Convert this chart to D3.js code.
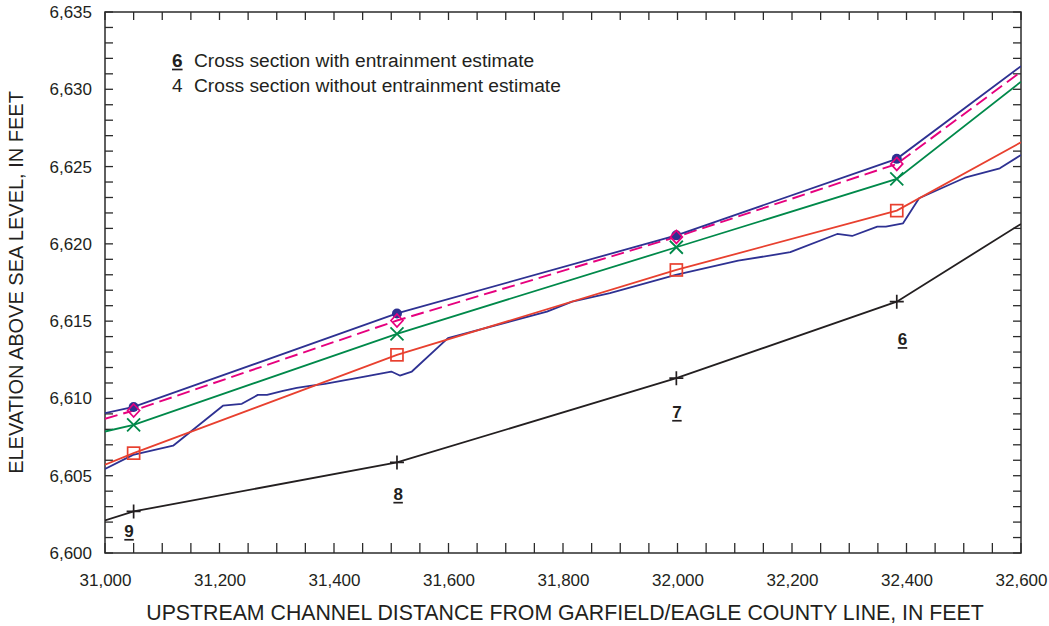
<!DOCTYPE html>
<html>
<head>
<meta charset="utf-8">
<script src="https://cdn.jsdelivr.net/npm/d3@7"></script>
<style>
  html, body { margin: 0; padding: 0; background: #fff; }
  svg { display: block; }
  text { font-family: "Liberation Sans", Arial, Helvetica, sans-serif; fill: #231f20; }
</style>
</head>
<body>
<svg id="chart" width="1049" height="626"></svg>
<script>
// Stations (ft upstream of county line) where the profiles are defined
const profileStations = [31000, 31050, 31510, 31998, 32383, 32600];

// Water-surface / elevation profiles, ft above sea level
const navyProfile    = [6609.05, 6609.45, 6615.50, 6620.55, 6625.50, 6631.50];
const magentaProfile = [6608.68, 6609.22, 6615.04, 6620.45, 6625.17, 6631.13];
const greenProfile   = [6607.86, 6608.29, 6614.18, 6619.78, 6624.20, 6630.49];
const redProfile     = [6605.71, 6606.46, 6612.82, 6618.31, 6622.15, 6626.57];
const blackProfile   = [6602.11, 6602.69, 6605.86, 6611.31, 6616.26, 6621.29];

// Detailed irregular profile
const detailStations = [31000, 31049, 31119, 31206, 31239, 31267, 31283, 31311, 31335, 31358,
  31384, 31451, 31500, 31515, 31536, 31599, 31772, 31816, 31882, 31997, 32106, 32197,
  32279, 32305, 32349, 32364, 32394, 32422, 32502, 32563, 32600];
const detailElev = [6605.43, 6606.35, 6606.94, 6609.53, 6609.65, 6610.23, 6610.23, 6610.49, 6610.68, 6610.81,
  6610.94, 6611.39, 6611.74, 6611.48, 6611.74, 6613.90, 6615.62, 6616.26, 6616.81, 6617.99, 6618.91, 6619.46,
  6620.64, 6620.51, 6621.12, 6621.12, 6621.33, 6622.95, 6624.28, 6624.89, 6625.75];

// Cross sections (with entrainment estimate) and their label anchors
const sectionIds = ["9", "8", "7", "6"];
const sectionLabelStations = [31042, 31512, 31999, 32393];
const sectionLabelElev = [6601.05, 6603.45, 6608.75, 6613.46];

// Axis ticks
const xTickValues = [31000, 31200, 31400, 31600, 31800, 32000, 32200, 32400, 32600];
const yTickValues = [6600, 6605, 6610, 6615, 6620, 6625, 6630, 6635];

// Legend entries
const legendKeys = ["6", "4"];
const legendTexts = ["Cross section with entrainment estimate", "Cross section without entrainment estimate"];

const svg = d3.select("#chart");
const margin = { left: 105, right: 28, top: 12, bottom: 73 };
const W = 1049, H = 626;
const x = d3.scaleLinear().domain([31000, 32600]).range([margin.left, W - margin.right]);
const y = d3.scaleLinear().domain([6600, 6635]).range([H - margin.bottom, margin.top]);

const frameColor = "#2b2b2b";

// Minor ticks (inside the frame) on all four sides
const minorX = d3.range(31000, 32601, 50);
const minorY = d3.range(6600, 6636, 1);
const tickG = svg.append("g").attr("stroke", frameColor).attr("stroke-width", 1.3);
minorX.forEach(v => {
  tickG.append("line").attr("x1", x(v)).attr("x2", x(v)).attr("y1", y(6600)).attr("y2", y(6600) - 10);
  tickG.append("line").attr("x1", x(v)).attr("x2", x(v)).attr("y1", y(6635)).attr("y2", y(6635) + 8);
});
minorY.forEach(v => {
  tickG.append("line").attr("x1", x(31000)).attr("x2", x(31000) + 8).attr("y1", y(v)).attr("y2", y(v));
  tickG.append("line").attr("x1", x(32600)).attr("x2", x(32600) - 8).attr("y1", y(v)).attr("y2", y(v));
});

// Tick labels via d3 axes (no tick marks of their own)
const fmt = d3.format(",");
const xAxis = svg.append("g")
  .attr("transform", `translate(0,${y(6600)})`)
  .call(d3.axisBottom(x).tickValues(xTickValues).tickFormat(fmt).tickSize(0).tickPadding(21));
const yAxis = svg.append("g")
  .attr("transform", `translate(${x(31000)},0)`)
  .call(d3.axisLeft(y).tickValues(yTickValues).tickFormat(fmt).tickSize(0).tickPadding(13));
[xAxis, yAxis].forEach(a => {
  a.select(".domain").remove();
  a.selectAll("text").attr("font-size", 17).attr("fill", "#231f20")
    .style("font-family", '"Liberation Sans", Arial, sans-serif');
});

// Frame
svg.append("rect")
  .attr("x", x(31000)).attr("y", y(6635))
  .attr("width", x(32600) - x(31000)).attr("height", y(6600) - y(6635))
  .attr("fill", "none").attr("stroke", frameColor).attr("stroke-width", 1.5);

// Clip to plot area
svg.append("clipPath").attr("id", "plotClip").append("rect")
  .attr("x", x(31000)).attr("y", y(6635))
  .attr("width", x(32600) - x(31000)).attr("height", y(6600) - y(6635));
const plot = svg.append("g").attr("clip-path", "url(#plotClip)");

const line = d3.line().x(d => x(d[0])).y(d => y(d[1]));
const zipProfile = vals => profileStations.map((s, i) => [s, vals[i]]);

const colors = {
  navy: "#2e3192",
  magenta: "#e6007e",
  green: "#00894a",
  red: "#e8402f",
  black: "#231f20"
};
const lw = 1.8;

// Lines
plot.append("path").datum(zipProfile(blackProfile)).attr("d", line)
  .attr("fill", "none").attr("stroke", colors.black).attr("stroke-width", lw);
plot.append("path").datum(detailStations.map((s, i) => [s, detailElev[i]])).attr("d", line)
  .attr("fill", "none").attr("stroke", colors.navy).attr("stroke-width", lw).attr("stroke-linejoin", "round");
plot.append("path").datum(zipProfile(redProfile)).attr("d", line)
  .attr("fill", "none").attr("stroke", colors.red).attr("stroke-width", lw);
plot.append("path").datum(zipProfile(greenProfile)).attr("d", line)
  .attr("fill", "none").attr("stroke", colors.green).attr("stroke-width", lw);
plot.append("path").datum(zipProfile(magentaProfile)).attr("d", line)
  .attr("fill", "none").attr("stroke", colors.magenta).attr("stroke-width", 1.9)
  .attr("stroke-dasharray", "13,6");
plot.append("path").datum(zipProfile(navyProfile)).attr("d", line)
  .attr("fill", "none").attr("stroke", colors.navy).attr("stroke-width", lw);

// Markers at the cross sections (interior stations)
const markerIdx = [1, 2, 3, 4];
const mk = plot.append("g");
markerIdx.forEach(i => {
  const sx = x(profileStations[i]);
  // black plus
  const by = y(blackProfile[i]);
  mk.append("path").attr("d", `M${sx - 7},${by}H${sx + 7}M${sx},${by - 7}V${by + 7}`)
    .attr("stroke", colors.black).attr("stroke-width", 1.7).attr("fill", "none");
  // red open square
  const ry = y(redProfile[i]);
  mk.append("rect").attr("x", sx - 6).attr("y", ry - 6).attr("width", 12).attr("height", 12)
    .attr("fill", "none").attr("stroke", colors.red).attr("stroke-width", 1.7);
  // green x
  const gy = y(greenProfile[i]);
  mk.append("path").attr("d", `M${sx - 6.5},${gy - 6.5}L${sx + 6.5},${gy + 6.5}M${sx - 6.5},${gy + 6.5}L${sx + 6.5},${gy - 6.5}`)
    .attr("stroke", colors.green).attr("stroke-width", 1.8).attr("fill", "none");
  // navy filled circle
  const ny = y(navyProfile[i]);
  mk.append("circle").attr("cx", sx).attr("cy", ny).attr("r", 5).attr("fill", colors.navy);
  // magenta open diamond
  const my = y(magentaProfile[i]);
  mk.append("path").attr("d", `M${sx},${my - 6.5}L${sx + 6},${my}L${sx},${my + 6.5}L${sx - 6},${my}Z`)
    .attr("fill", "none").attr("stroke", colors.magenta).attr("stroke-width", 1.7);
});

// Cross-section labels (bold, underlined)
sectionIds.forEach((id, i) => {
  const lx = x(sectionLabelStations[i]);
  const ly = y(sectionLabelElev[i]);
  const t = svg.append("text").attr("x", lx).attr("y", ly).attr("text-anchor", "middle")
    .attr("font-size", 17).attr("font-weight", "bold").text(id);
  const w = t.node().getComputedTextLength();
  svg.append("line").attr("x1", lx - w / 2).attr("x2", lx + w / 2)
    .attr("y1", ly + 3).attr("y2", ly + 3).attr("stroke", "#231f20").attr("stroke-width", 1.7);
});

// Legend
const legX = 172, legTextX = 194, legY = [66.5, 92.3];
legendKeys.forEach((k, i) => {
  const bold = i === 0;
  const t = svg.append("text").attr("x", legX).attr("y", legY[i])
    .attr("font-size", 19).attr("font-weight", bold ? "bold" : "normal").text(k);
  if (bold) {
    const w = t.node().getComputedTextLength();
    svg.append("line").attr("x1", legX).attr("x2", legX + w)
      .attr("y1", legY[i] + 3).attr("y2", legY[i] + 3).attr("stroke", "#231f20").attr("stroke-width", 1.7);
  }
  svg.append("text").attr("x", legTextX).attr("y", legY[i]).attr("font-size", 19.2).text(legendTexts[i]);
});

// Axis titles
svg.append("text").attr("x", (x(31000) + x(32600)) / 2 + 2).attr("y", 620)
  .attr("text-anchor", "middle").attr("font-size", 21.3)
  .text("UPSTREAM CHANNEL DISTANCE FROM GARFIELD/EAGLE COUNTY LINE, IN FEET");
svg.append("text").attr("transform", `translate(23,${(y(6600) + y(6635)) / 2}) rotate(-90)`)
  .attr("text-anchor", "middle").attr("font-size", 20)
  .text("ELEVATION ABOVE SEA LEVEL, IN FEET");
</script>
</body>
</html>
